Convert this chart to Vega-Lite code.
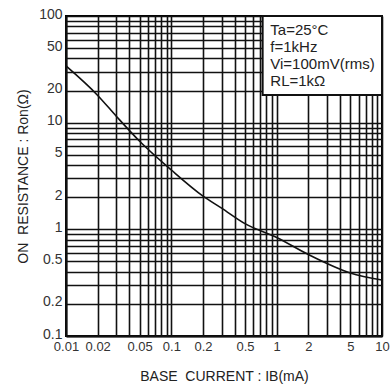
{
  "$schema": "https://vega.github.io/schema/vega-lite/v6.json",
  "width": 316,
  "height": 320,
  "autosize": {"type": "none"},
  "padding": {"left": 66, "top": 16, "right": 10, "bottom": 51},
  "background": "white",
  "config": {
    "view": {"stroke": "black", "strokeWidth": 2},
    "font": "Liberation Sans",
    "axis": {
      "gridColor": "#111",
      "gridWidth": 1.6,
      "gridOpacity": 1,
      "domainColor": "#111",
      "domainWidth": 2,
      "ticks": false,
      "labelFont": "Liberation Sans",
      "labelFontSize": 14,
      "labelColor": "#333",
      "labelFlush": false,
      "titleFont": "Liberation Sans",
      "titleFontSize": 14,
      "titleFontWeight": "normal",
      "titleColor": "#222",
      "labelOverlap": false
    }
  },
  "layer": [
    {
      "data": {"values": [
        {"ib": 0.01, "ron": 34},
        {"ib": 0.02, "ron": 18},
        {"ib": 0.03, "ron": 11.5},
        {"ib": 0.05, "ron": 6.7},
        {"ib": 0.1, "ron": 3.6},
        {"ib": 0.2, "ron": 2.05},
        {"ib": 0.3, "ron": 1.58},
        {"ib": 0.5, "ron": 1.13},
        {"ib": 1, "ron": 0.84},
        {"ib": 2, "ron": 0.58},
        {"ib": 5, "ron": 0.39},
        {"ib": 10, "ron": 0.335}
      ]},
      "mark": {"type": "line", "color": "#111", "strokeWidth": 1.6, "interpolate": "monotone", "clip": true},
      "encoding": {
        "x": {
          "field": "ib", "type": "quantitative",
          "scale": {"type": "log", "domain": [0.01, 10], "nice": false},
          "axis": {
            "title": "BASE\u00a0\u00a0CURRENT : IB(mA)",
            "values": [0.01,0.02,0.03,0.04,0.05,0.06,0.07,0.08,0.09,0.1,0.2,0.3,0.4,0.5,0.6,0.7,0.8,0.9,1,2,3,4,5,6,7,8,9,10],
            "format": "~g",
            "labelExpr": "indexof(['0.01','0.02','0.05','0.1','0.2','0.5','1','2','5','10'], datum.label) >= 0 ? datum.label : ''",
            "labelFontSize": 13,
            "labelPadding": 4,
            "titlePadding": 16
          }
        },
        "y": {
          "field": "ron", "type": "quantitative",
          "scale": {"type": "log", "domain": [0.1, 100], "nice": false},
          "axis": {
            "title": "ON\u00a0\u00a0RESISTANCE : Ron(Ω)",
            "values": [0.1,0.2,0.3,0.4,0.5,0.6,0.7,0.8,0.9,1,2,3,4,5,6,7,8,9,10,20,30,40,50,60,70,80,90,100],
            "format": "~g",
            "labelExpr": "indexof(['0.1','0.2','0.5','1','2','5','10','20','50','100'], datum.label) >= 0 ? datum.label : ''",
            "labelPadding": 4,
            "labelOffset": -2,
            "titlePadding": 8
          }
        }
      }
    },
    {
      "data": {"values": [{"x1": 0.736, "x2": 10, "y1": 18.2, "y2": 100}]},
      "mark": {"type": "rect", "fill": "white", "stroke": "#111", "strokeWidth": 2},
      "encoding": {
        "x": {"field": "x1", "type": "quantitative", "scale": {"type": "log", "domain": [0.01, 10], "nice": false}},
        "x2": {"field": "x2"},
        "y": {"field": "y1", "type": "quantitative", "scale": {"type": "log", "domain": [0.1, 100], "nice": false}},
        "y2": {"field": "y2"}
      }
    },
    {
      "data": {"values": [
        {"x": 0.87, "y": 74, "t": "Ta=25°C"},
        {"x": 0.87, "y": 51, "t": "f=1kHz"},
        {"x": 0.87, "y": 35.5, "t": "Vi=100mV(rms)"},
        {"x": 0.87, "y": 24.6, "t": "RL=1kΩ"}
      ]},
      "mark": {"type": "text", "align": "left", "baseline": "middle", "fontSize": 15, "font": "Liberation Sans", "color": "#222"},
      "encoding": {
        "x": {"field": "x", "type": "quantitative", "scale": {"type": "log", "domain": [0.01, 10], "nice": false}},
        "y": {"field": "y", "type": "quantitative", "scale": {"type": "log", "domain": [0.1, 100], "nice": false}},
        "text": {"field": "t"}
      }
    }
  ]
}
